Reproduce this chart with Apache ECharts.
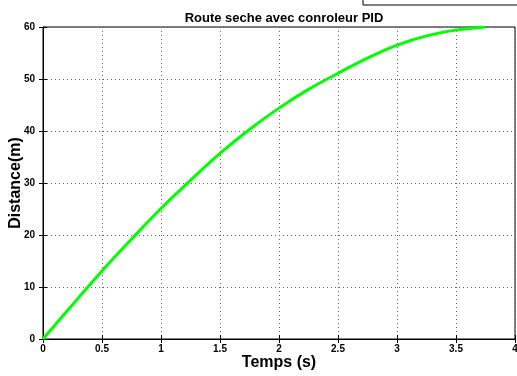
<!DOCTYPE html>
<html>
<head>
<meta charset="utf-8">
<script src="https://cdn.jsdelivr.net/npm/echarts@6/dist/echarts.min.js"></script>
<style>
  html, body { margin: 0; padding: 0; background: #ffffff; }
  #chart { width: 517px; height: 376px; }
</style>
</head>
<body>
<div id="chart"></div>
<script>
// temps (s) et distance (m)
const temps = [0, 0.25, 0.5, 0.75, 1, 1.25, 1.5, 1.75, 2, 2.25, 2.5, 2.75, 3, 3.25, 3.5, 3.75]
const distance = [0, 6.6, 13.1, 19.2, 25.1, 30.5, 35.7, 40.3, 44.4, 48.0, 51.1, 54.0, 56.5, 58.3, 59.4, 60.0]

const xTicks = [0, 0.5, 1, 1.5, 2, 2.5, 3, 3.5, 4]
const yTicks = [0, 10, 20, 30, 40, 50, 60]

const font = 'Liberation Sans, Arial, Helvetica, sans-serif'

const chart = echarts.init(document.getElementById('chart'), null, { renderer: 'canvas' })

const gridLine = {
  show: true,
  lineStyle: { color: '#666666', type: [1, 3], width: 1 },
}

const option = {
  backgroundColor: '#ffffff',
  animation: false,
  title: {
    text: 'Route seche avec conroleur PID',
    left: 279,
    textAlign: 'center',
    top: 7,
    textStyle: { fontFamily: font, fontSize: 13, fontWeight: 'bold', color: '#000000' },
  },
  grid: {
    left: 43,
    top: 27,
    right: 2,
    bottom: 37,
    outerBoundsMode: 'none',
    containLabel: false,
    show: true,
    borderColor: '#000000',
    borderWidth: 1,
  },
  graphic: [
    {
      type: 'rect',
      shape: { x: 363, y: -10, width: 170, height: 15 },
      style: { fill: '#ffffff', stroke: '#000000', lineWidth: 1 },
    },
  ],
  xAxis: [
    {
      type: 'value',
      min: xTicks[0],
      max: xTicks[xTicks.length - 1],
      interval: 0.5,
      name: 'Temps (s)',
      nameLocation: 'middle',
      nameGap: 16,
      nameMoveOverlap: false,
      nameTextStyle: { fontFamily: font, fontSize: 16, fontWeight: 'bold', color: '#000000' },
      axisLine: { show: true, onZero: false, lineStyle: { color: '#000000', width: 1 } },
      axisTick: { show: true, inside: true, length: 4, lineStyle: { color: '#000000' } },
      axisLabel: { fontFamily: font, fontSize: 10, fontWeight: 'bold', color: '#000000', margin: 5 },
      splitLine: gridLine,
    },
    {
      type: 'value',
      position: 'top',
      min: xTicks[0],
      max: xTicks[xTicks.length - 1],
      interval: 0.5,
      axisLine: { show: true, lineStyle: { color: '#000000' } },
      axisTick: { show: true, inside: true, length: 4, lineStyle: { color: '#000000' } },
      axisLabel: { show: false },
      splitLine: { show: false },
    },
  ],
  yAxis: [
    {
      type: 'value',
      min: yTicks[0],
      max: yTicks[yTicks.length - 1],
      interval: 10,
      name: 'Distance(m)',
      nameLocation: 'middle',
      nameGap: 19,
      nameMoveOverlap: false,
      nameTextStyle: { fontFamily: font, fontSize: 16, fontWeight: 'bold', color: '#000000' },
      axisLine: { show: true, onZero: false, lineStyle: { color: '#000000', width: 1 } },
      axisTick: { show: true, inside: true, length: 4, lineStyle: { color: '#000000' } },
      axisLabel: { fontFamily: font, fontSize: 10, fontWeight: 'bold', color: '#000000', margin: 8 },
      splitLine: gridLine,
    },
    {
      type: 'value',
      position: 'right',
      min: yTicks[0],
      max: yTicks[yTicks.length - 1],
      interval: 10,
      axisLine: { show: true, lineStyle: { color: '#000000' } },
      axisTick: { show: true, inside: true, length: 4, lineStyle: { color: '#000000' } },
      axisLabel: { show: false },
      splitLine: { show: false },
    },
  ],
  series: [
    {
      name: 'distance',
      type: 'line',
      smooth: 0.4,
      symbol: 'none',
      lineStyle: { color: '#00ff00', width: 3 },
      data: temps.map((t, i) => [t, distance[i]]),
    },
  ],
}

chart.setOption(option)
</script>
</body>
</html>
